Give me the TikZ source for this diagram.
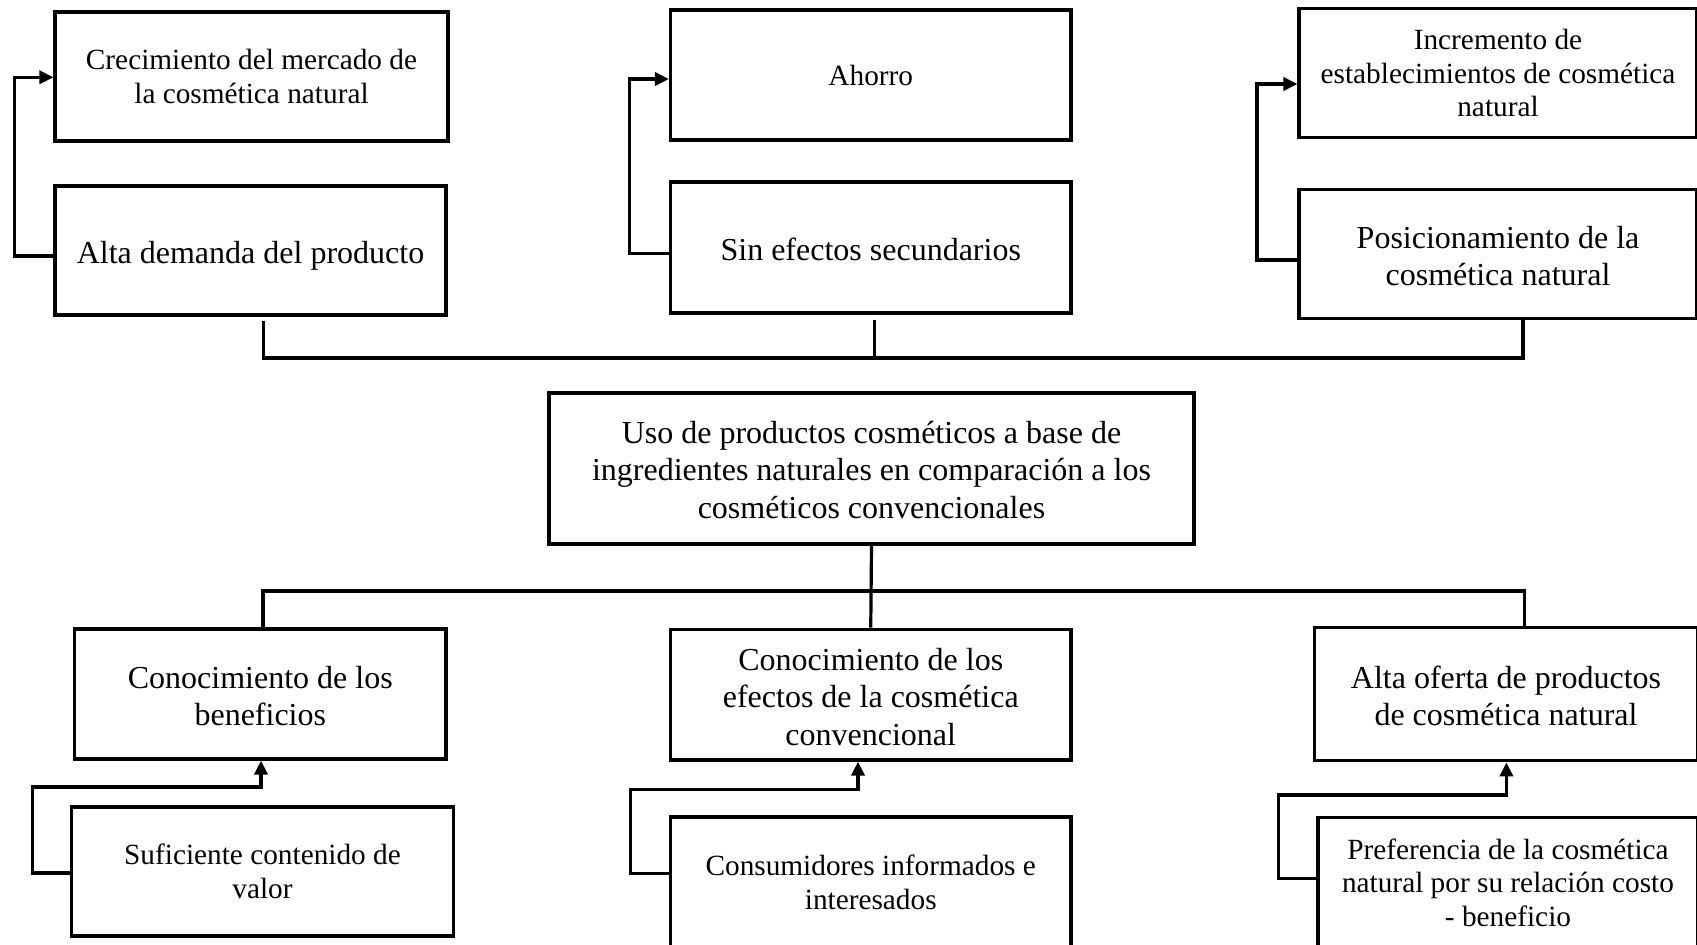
\documentclass[tikz,border=0pt]{standalone}
\usepackage{fontspec}
\setmainfont{Liberation Serif}
\usetikzlibrary{arrows.meta}
\begin{document}
\begin{tikzpicture}[x=0.5pt,y=-0.5pt,
  box/.style={draw, line width=1.6pt, inner sep=0pt, align=center},
  sz/.style 2 args={minimum width=#1*0.5pt, minimum height=#2*0.5pt},
  big/.style={font=\fontsize{16pt}{18.7pt}\selectfont},
  small/.style={font=\fontsize{14.65pt}{16.7pt}\selectfont},
  link/.style={line width=1.6pt},
  arr/.style={link, -{Triangle[length=7pt,width=6.6pt]}}]

\fill[white] (0,0) rectangle (1697,944);
\useasboundingbox (0,0) rectangle (1697,944);

% upper row: effects
\node[box,small,sz={393}{129}] (A1) at (251.5,76.5) {Crecimiento del mercado de\\la cosmética natural};
\node[box,big,text height=16pt,text depth=3.5pt,sz={391}{129}] (A2) at (250.5,250.5) {Alta demanda del producto};
\node[box,small,sz={400.5}{130}] (B1) at (870.75,75) {Ahorro};
\node[box,big,text height=12.9pt,text depth=0pt,sz={400.5}{131}] (B2) at (870.75,247.5) {Sin efectos secundarios};
\node[box,small,sz={398}{129}] (C1) at (1498,73) {Incremento de\\establecimientos de cosmética\\natural};
\node[box,big,text height=31.8pt,sz={398}{129}] (C2) at (1498,254) {Posicionamiento de la\\cosmética natural};

% central problem
\node[box,big,text height=50pt,sz={645}{151}] (M) at (871.5,468.5) {Uso de productos cosméticos a base de\\ingredientes naturales en comparación a los\\cosméticos convencionales};

% lower row: causes
\node[box,big,text height=31.8pt,sz={371.4}{130}] (D1) at (260.3,694) {Conocimiento de los\\beneficios};
\node[box,small,sz={382}{129}] (D2) at (262.5,871.5) {Suficiente contenido de\\valor};
\node[box,big,text height=50.8pt,sz={400.5}{130.7}] (E1) at (870.75,694.65) {Conocimiento de los\\efectos de la cosmética\\convencional};
\node[box,small,sz={400.5}{131}] (E2) at (870.75,882.5) {Consumidores informados e\\interesados};
\node[box,big,text height=31.8pt,sz={383.7}{133.7}] (F1) at (1506,694) {Alta oferta de productos\\de cosmética natural};
\node[box,small,sz={380}{130.7}] (F2) at (1508,882.6) {Preferencia de la cosmética\\natural por su relación costo\\- beneficio};

% bend points of the side arrows
\coordinate (aT) at (14.2,77.3);
\coordinate (bT) at (629.2,79);
\coordinate (cT) at (1257,84);
\coordinate (dT) at (32.5,787);
\coordinate (eT) at (630.4,789.3);
\coordinate (fT) at (1278.7,795);

% side arrows, upper row
\draw[arr] (A2.west |- 0,256) -| (aT) -- (A1.west |- aT);
\draw[arr] (B2.west |- 0,253.3) -| (bT) -- (B1.west |- bT);
\draw[arr] (C2.west |- 0,260) -| (cT) -- (C1.west |- cT);

% side arrows, lower row
\draw[arr] (D2.west |- 0,873) -| (dT) -| (D1.south -| 261,0);
\draw[arr] (E2.west |- 0,873.3) -| (eT) -| (E1.south -| 858,0);
\draw[arr] (F2.west |- 0,878.3) -| (fT) -| (F1.south -| 1506.4,0);

% bracket joining the upper row
\coordinate (tl) at (263.3,358);
\coordinate (tr) at (1523,358);
\draw[link, shorten <=2pt] (A2.south -| tl) -- (tl) -- (tr) -- (C2.south -| tr);
\draw[link, shorten <=2.5pt] (B2.south -| 874.5,0) -- (874.5,358);

% bracket joining the lower row
\coordinate (bl) at (263,591);
\coordinate (br) at (1524.8,591);
\draw[link] (M.south) -- (E1.north);
\draw[link] (D1.north -| bl) -- (bl) -- (br) -- (F1.north -| br);
\end{tikzpicture}
\end{document}
